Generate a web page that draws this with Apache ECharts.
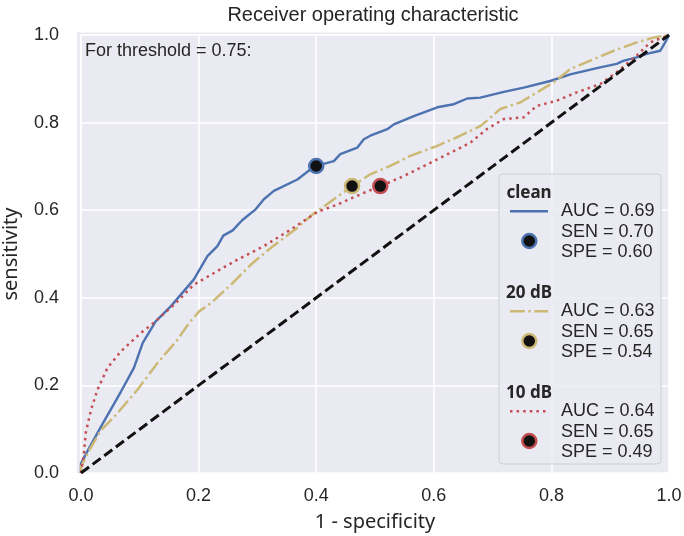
<!DOCTYPE html>
<html>
<head>
<meta charset="utf-8">
<script src="https://cdn.jsdelivr.net/npm/echarts@6/dist/echarts.min.js"></script>
<style>
    html, body { margin: 0; padding: 0; background: #fff; }
    #roc { width: 684px; height: 536px; }
</style>
</head>
<body>
<div id="roc"></div>
<script>
// ROC curves (x = 1 - specificity, y = sensitivity)
const cleanX = [0, 0, 0.011, 0.034, 0.068, 0.090, 0.105, 0.127, 0.153, 0.192, 0.215, 0.232, 0.242, 0.258, 0.274, 0.297, 0.311, 0.328, 0.368, 0.390, 0.400, 0.430, 0.441, 0.470, 0.481, 0.492, 0.521, 0.532, 0.566, 0.606, 0.634, 0.657, 0.679, 0.719, 0.753, 0.798, 0.832, 0.883, 0.911, 0.922, 0.945, 0.962, 0.985, 0.990, 0.998, 1]
const cleanY = [0, 0.022, 0.050, 0.106, 0.186, 0.240, 0.297, 0.346, 0.381, 0.442, 0.495, 0.518, 0.542, 0.554, 0.577, 0.602, 0.625, 0.644, 0.670, 0.693, 0.701, 0.712, 0.728, 0.743, 0.762, 0.770, 0.785, 0.796, 0.815, 0.835, 0.842, 0.855, 0.857, 0.870, 0.880, 0.895, 0.910, 0.926, 0.934, 0.941, 0.949, 0.957, 0.964, 0.975, 0.994, 1]

const db20X = [0, 0, 0.011, 0.034, 0.057, 0.096, 0.130, 0.164, 0.184, 0.201, 0.221, 0.255, 0.289, 0.323, 0.368, 0.390, 0.402, 0.430, 0.461, 0.492, 0.526, 0.560, 0.606, 0.645, 0.679, 0.690, 0.713, 0.747, 0.804, 0.832, 0.860, 0.906, 0.945, 0.973, 1]
const db20Y = [0, 0.014, 0.045, 0.098, 0.129, 0.190, 0.251, 0.304, 0.343, 0.369, 0.388, 0.430, 0.476, 0.514, 0.560, 0.586, 0.598, 0.625, 0.655, 0.682, 0.701, 0.724, 0.747, 0.770, 0.792, 0.804, 0.831, 0.846, 0.892, 0.922, 0.938, 0.964, 0.983, 0.994, 1]

const db10X = [0, 0.005, 0.008, 0.017, 0.028, 0.045, 0.068, 0.102, 0.124, 0.158, 0.192, 0.232, 0.266, 0.311, 0.357, 0.402, 0.436, 0.475, 0.509, 0.549, 0.606, 0.662, 0.690, 0.719, 0.753, 0.775, 0.809, 0.843, 0.883, 0.911, 0.945, 0.968, 1]
const db10Y = [0, 0.045, 0.091, 0.144, 0.190, 0.240, 0.278, 0.320, 0.343, 0.384, 0.430, 0.461, 0.487, 0.518, 0.556, 0.596, 0.613, 0.636, 0.655, 0.678, 0.716, 0.754, 0.785, 0.808, 0.812, 0.838, 0.850, 0.869, 0.888, 0.915, 0.953, 0.983, 1]

const chanceX = [0, 1]
const chanceY = [0, 1]

// operating points at threshold 0.75
const names = ['clean', '20 dB', '10 dB']
const pointX = [0.40, 0.461, 0.509]
const pointY = [0.701, 0.655, 0.655]
const aucText = ['AUC = 0.69', 'AUC = 0.63', 'AUC = 0.64']
const senText = ['SEN = 0.70', 'SEN = 0.65', 'SEN = 0.65']
const speText = ['SPE = 0.60', 'SPE = 0.54', 'SPE = 0.49']

const colors = ['#4C72B0', '#CCB974', '#C44E52']
const dashes = ['solid', [14.7, 3.7, 2.3, 3.7], [2.5, 4.1]]
const textColor = '#262626'
const bg = '#EAEAF2'

function pairs(xs, ys) {
    return xs.map((x, i) => [x, ys[i]])
}

const chart = echarts.init(document.getElementById('roc'), null, { renderer: 'canvas' })

const gridL = 81, gridT = 35, gridW = 588, gridH = 438

let series = []
const curves = [[cleanX, cleanY], [db20X, db20Y], [db10X, db10Y]]
curves.forEach((c, i) => {
    series.push({
        type: 'line',
        name: names[i],
        data: pairs(c[0], c[1]),
        showSymbol: false,
        clip: false,
        z: 3,
        lineStyle: { color: colors[i], width: i === 0 ? 2.4 : 2.5, type: dashes[i] }
    })
})
series.push({
    type: 'line',
    data: pairs(chanceX, chanceY),
    showSymbol: false,
    clip: false,
    z: 4,
    lineStyle: { color: '#111', width: 3, type: [10, 4.5] }
})
names.forEach((n, i) => {
    series.push({
        type: 'scatter',
        data: [[pointX[i], pointY[i]]],
        symbolSize: 14,
        z: 5,
        itemStyle: { color: '#111', borderColor: colors[i], borderWidth: 2.5, opacity: 1 }
    })
})

// legend drawn by hand (matplotlib style grouped legend)
let legendEls = [{
    type: 'rect',
    z: 100,
    shape: { x: 499, y: 174, width: 162, height: 290, r: 4 },
    style: { fill: 'rgba(234,234,242,0.8)', stroke: '#cfcfd6', lineWidth: 1 }
}]
names.forEach((n, i) => {
    const base = 192.7 + 100 * i
    const txt = (t, x, y) => ({
        type: 'text', z: 101,
        style: {
            text: t, x: x, y: y, fill: textColor,
            fontSize: 18, fontFamily: 'Liberation Sans',
            align: 'left', verticalAlign: 'middle'
        }
    })
    legendEls.push({
        type: 'text', z: 101,
        style: {
            text: n, x: 529, y: base, fill: textColor,
            fontSize: 17, fontWeight: 'bold', fontFamily: 'Noto Sans',
            align: 'center', verticalAlign: 'middle'
        }
    })
    legendEls.push({
        type: 'line', z: 101,
        shape: { x1: 510, y1: base + 18.6, x2: 548, y2: base + 18.6 },
        style: { stroke: colors[i], lineWidth: 2.5, lineDash: dashes[i] === 'solid' ? null : dashes[i] }
    })
    legendEls.push({
        type: 'circle', z: 101,
        shape: { cx: 529.3, cy: base + 48.3, r: 7 },
        style: { fill: '#111', stroke: colors[i], lineWidth: 2.5 }
    })
    legendEls.push(txt(aucText[i], 561, base + 18.8))
    legendEls.push(txt(senText[i], 561, base + 39.5))
    legendEls.push(txt(speText[i], 561, base + 59))
})

chart.setOption({
    backgroundColor: '#ffffff',
    animation: false,
    grid: {
        left: gridL, top: gridT, width: gridW, height: gridH,
        outerBoundsMode: 'none',
        containLabel: false,
        show: true, backgroundColor: bg, borderWidth: 0
    },
    xAxis: {
        type: 'value',
        min: 0, max: 1, interval: 0.2,
        name: '1 - specificity',
        nameLocation: 'middle',
        nameGap: 39,
        nameMoveOverlap: false,
        nameTextStyle: { fontSize: 20, fontFamily: 'Noto Sans', color: textColor },
        axisLine: { show: false },
        axisTick: { show: false },
        axisLabel: {
            margin: 14, fontSize: 18, fontFamily: 'Liberation Sans', color: textColor,
            formatter: v => v.toFixed(1)
        },
        splitLine: { show: true, lineStyle: { color: '#ffffff', width: 1.6 } }
    },
    yAxis: {
        type: 'value',
        min: 0, max: 1, interval: 0.2,
        name: 'sensitivity',
        nameLocation: 'middle',
        nameGap: 60,
        nameMoveOverlap: false,
        nameTextStyle: { fontSize: 20, fontFamily: 'Noto Sans', color: textColor },
        axisLine: { show: false },
        axisTick: { show: false },
        axisLabel: {
            margin: 22, fontSize: 18, fontFamily: 'Liberation Sans', color: textColor,
            formatter: v => v.toFixed(1)
        },
        splitLine: { show: true, lineStyle: { color: '#ffffff', width: 1.6 } }
    },
    graphic: [
        // axes background reaches a little past x = 0 and y = 1
        { type: 'rect', z: -1, silent: true, shape: { x: 77, y: 32.5, width: 3.2, height: 440.5 }, style: { fill: bg } },
        { type: 'rect', z: -1, silent: true, shape: { x: 77, y: 32.5, width: 592, height: 1.8 }, style: { fill: bg } },
        {
            type: 'text', z: 10,
            style: {
                text: 'Receiver operating characteristic', x: 373, y: 15,
                fontSize: 20, fontFamily: 'Liberation Sans', fill: textColor,
                align: 'center', verticalAlign: 'middle'
            }
        },
        {
            type: 'text', z: 10,
            style: {
                text: 'For threshold = 0.75:', x: 85, y: 50.7,
                fontSize: 18, fontFamily: 'Liberation Sans', fill: textColor,
                align: 'left', verticalAlign: 'middle'
            }
        }
    ].concat(legendEls),
    series: series
})
</script>
</body>
</html>
